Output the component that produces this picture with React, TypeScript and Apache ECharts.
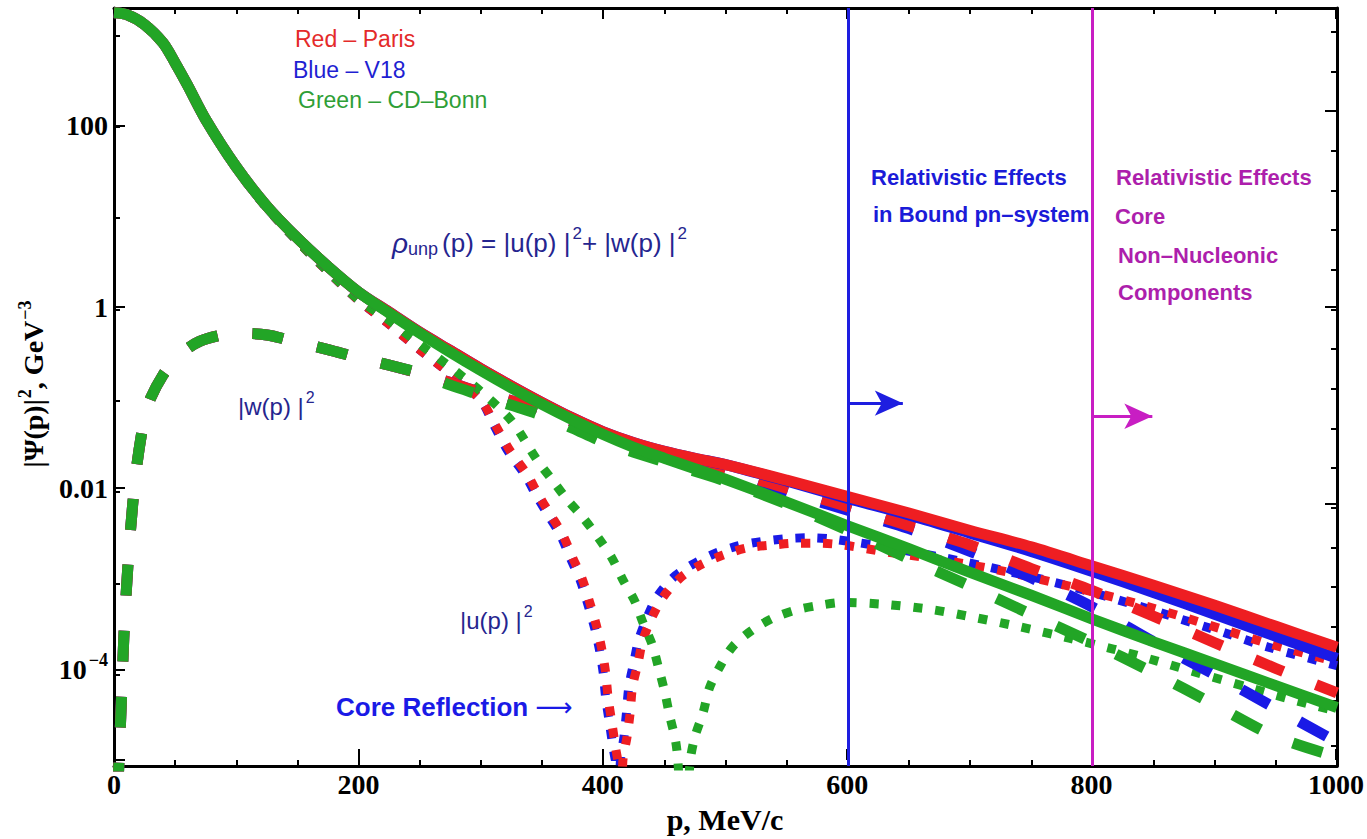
import React, { useEffect, useRef } from "react";
import * as echarts from "echarts";

// ---------------- data ----------------
// momentum p, MeV/c  ->  total density rho_unp = |u|^2 + |w|^2 , GeV^-3
const P_TOTAL = [0, 10, 25, 40, 50, 60, 75, 100, 125, 150, 175, 200, 225, 250, 275, 300, 325, 350, 375, 400, 425, 450, 475, 500, 550, 600, 650, 700, 750, 800, 850, 900, 950, 1000];
const RHO_PARIS = [1778, 1698, 1318, 832, 501, 288, 120, 36.3, 13.5, 6.03, 2.95, 1.55, 0.933, 0.562, 0.355, 0.224, 0.145, 0.0955, 0.0646, 0.0457, 0.0347, 0.0279, 0.0234, 0.02, 0.0135, 0.00891, 0.00589, 0.0038, 0.00251, 0.00155, 9.55e-4, 5.75e-4, 3.39e-4, 2.0e-4];
const RHO_V18 = [1778, 1698, 1318, 832, 501, 288, 120, 36.3, 13.5, 6.03, 2.95, 1.55, 0.933, 0.562, 0.355, 0.224, 0.145, 0.0955, 0.0646, 0.0457, 0.0347, 0.0279, 0.0234, 0.02, 0.0132, 0.00851, 0.00562, 0.00355, 0.00224, 0.00135, 7.94e-4, 4.57e-4, 2.63e-4, 1.51e-4];
const RHO_BONN = [1778, 1698, 1318, 832, 501, 288, 120, 36.3, 13.5, 6.03, 2.95, 1.55, 0.912, 0.55, 0.339, 0.214, 0.138, 0.0912, 0.0617, 0.0427, 0.0309, 0.0234, 0.018, 0.0138, 0.00776, 0.00427, 0.0024, 0.00132, 7.41e-4, 4.07e-4, 2.29e-4, 1.32e-4, 7.59e-5, 4.37e-5];

// D-wave |w(p)|^2
const P_W = [3, 6, 8, 10, 13, 18, 25, 30, 40, 50, 60, 70, 85, 100, 125, 150, 175, 200, 225, 250, 275, 300, 325, 350, 375, 400, 450, 500, 550, 600, 650, 700, 750, 800, 850, 900, 950, 1000];
const W_PARIS = [5.0e-6, 5.0e-5, 2.51e-4, 7.94e-4, 0.00316, 0.0166, 0.0661, 0.107, 0.191, 0.282, 0.372, 0.447, 0.513, 0.55, 0.525, 0.437, 0.363, 0.295, 0.245, 0.2, 0.158, 0.123, 0.1, 0.0794, 0.0589, 0.0417, 0.0263, 0.0174, 0.011, 0.00692, 0.00427, 0.00263, 0.00145, 8.32e-4, 4.37e-4, 2.24e-4, 1.17e-4, 6.31e-5];
const W_V18 = [5.0e-6, 5.0e-5, 2.51e-4, 7.94e-4, 0.00316, 0.0166, 0.0661, 0.107, 0.191, 0.282, 0.372, 0.447, 0.513, 0.55, 0.525, 0.437, 0.363, 0.295, 0.245, 0.2, 0.158, 0.123, 0.1, 0.0794, 0.0589, 0.0417, 0.0263, 0.0174, 0.0102, 0.00631, 0.00398, 0.00224, 0.00115, 5.5e-4, 2.29e-4, 1.0e-4, 4.27e-5, 1.82e-5];
const W_BONN = [5.0e-6, 5.0e-5, 2.51e-4, 7.94e-4, 0.00316, 0.0166, 0.0661, 0.107, 0.191, 0.282, 0.372, 0.447, 0.513, 0.55, 0.525, 0.437, 0.363, 0.295, 0.245, 0.2, 0.148, 0.115, 0.0891, 0.0692, 0.0501, 0.0355, 0.0214, 0.0132, 0.00741, 0.0038, 0.00186, 9.33e-4, 4.57e-4, 2.24e-4, 1.05e-4, 4.68e-5, 2.09e-5, 1.26e-5];

// S-wave |u(p)|^2 (passes through zero: the dip point falls below the axis)
const P_U_PARIS = [0, 10, 25, 40, 50, 60, 75, 100, 125, 150, 175, 200, 225, 250, 275, 300, 312, 324, 338, 347, 356, 367, 375, 383, 389, 395, 399, 402, 404, 407, 410, 413, 414.5, 416, 419.5, 422, 424, 428.5, 432.5, 440, 449, 463, 479, 498, 518, 539, 558, 577, 596, 633, 675, 725, 781, 836, 872, 908, 944, 1000];
const U_PARIS = [1778, 1698, 1318, 832, 501, 288, 120, 35.8, 13.0, 5.59, 2.59, 1.26, 0.688, 0.362, 0.197, 0.101, 0.0537, 0.0282, 0.0155, 0.00933, 0.00589, 0.00339, 0.00191, 0.0011, 6.17e-4, 3.24e-4, 1.86e-4, 1.05e-4, 5.62e-5, 3.02e-5, 1.62e-5, 8.9e-6, 1e-6, 1.1e-5, 2.09e-5, 3.8e-5, 7.41e-5, 1.35e-4, 2.4e-4, 4.27e-4, 7.08e-4, 0.00115, 0.00158, 0.00204, 0.00245, 0.00263, 0.00275, 0.00275, 0.00263, 0.00219, 0.00182, 0.00138, 9.33e-4, 6.03e-4, 4.37e-4, 3.09e-4, 2.19e-4, 1.38e-4];
const P_U_V18 = [0, 10, 25, 40, 50, 60, 75, 100, 125, 150, 175, 200, 225, 250, 275, 300, 310, 322, 336, 345, 354, 365, 373, 381, 387, 393, 397, 400, 402, 405, 408, 411, 412.5, 414, 417, 419, 421, 425, 429, 436, 444, 457, 472, 490, 510, 530, 550, 570, 590, 630, 675, 725, 781, 836, 872, 908, 944, 1000];
const U_V18 = [1778, 1698, 1318, 832, 501, 288, 120, 35.8, 13.0, 5.59, 2.59, 1.26, 0.688, 0.362, 0.197, 0.101, 0.0562, 0.0282, 0.0155, 0.00933, 0.00589, 0.00339, 0.00191, 0.0011, 6.17e-4, 3.24e-4, 1.86e-4, 1.05e-4, 5.62e-5, 3.02e-5, 1.62e-5, 8.9e-6, 1e-6, 1.1e-5, 2.09e-5, 3.8e-5, 7.41e-5, 1.35e-4, 2.4e-4, 4.27e-4, 7.08e-4, 0.00115, 0.00158, 0.00209, 0.00257, 0.00288, 0.00309, 0.00316, 0.00302, 0.00251, 0.00195, 0.00141, 9.33e-4, 5.75e-4, 4.07e-4, 2.88e-4, 2.0e-4, 1.26e-4];
const P_U_BONN = [0, 10, 25, 40, 50, 60, 75, 100, 125, 150, 175, 200, 225, 250, 275, 300, 325, 346, 359, 371, 383.5, 396, 407, 416, 426, 432.5, 440, 445, 450.5, 454.5, 459, 461, 466, 471, 475, 481.6, 487, 495.5, 506, 522, 539, 558, 577, 596, 630, 670, 706, 742, 781, 817, 853, 889, 928, 962, 1000];
const U_BONN = [1778, 1698, 1318, 832, 501, 288, 120, 35.8, 13.0, 5.59, 2.62, 1.28, 0.759, 0.417, 0.234, 0.126, 0.0603, 0.0224, 0.0132, 0.00813, 0.00525, 0.00316, 0.00191, 0.0011, 6.31e-4, 3.72e-4, 2.14e-4, 1.23e-4, 6.31e-5, 3.47e-5, 1.95e-5, 1.17e-5, 1e-6, 1.1e-5, 2.09e-5, 3.8e-5, 7.24e-5, 1.23e-4, 2.04e-4, 3.09e-4, 4.17e-4, 5.13e-4, 5.75e-4, 6.17e-4, 5.89e-4, 5.13e-4, 4.17e-4, 3.31e-4, 2.51e-4, 1.91e-4, 1.41e-4, 1.02e-4, 7.24e-5, 5.37e-5, 3.98e-5];

// axes
const X_MIN = 0;
const X_MAX = 1000;
const Y_MIN = 1e-5;
const Y_MAX = 2000;
const Y_LABELS: { exp: number; text: string }[] = [
  { exp: 2, text: "{b|100}" },
  { exp: 0, text: "{b|1}" },
  { exp: -2, text: "{b|0.01}" },
  { exp: -4, text: "{b|10}{s|\u22124}" },
];
// right frame ticks sit at powers of e
const RIGHT_MINOR_EXP = [-11, -10, -9, -8, -7, -6, -5, -4, -3, -2, -1, 0, 1, 2, 3, 4, 5, 6, 7];
const RIGHT_MAJOR_EXP = [-10, -5, 0, 5];

// region markers (p of the vertical line, p of the arrow tip, value level of the arrow)
const MARK_BLUE = { p: 600, tip: 645, level: 0.094 };
const MARK_MAGENTA = { p: 800, tip: 849, level: 0.0677 };

// ---------------- styles ----------------
const RED = "#ee1e22";
const BLUE = "#1a1ae6";
const GREEN = "#22a526";
const BLUE_LINE = "#1e1ee0";
const MAGENTA_LINE = "#c81ec3";
const MAGENTA_TEXT = "#ad1fac";
const NAVY = "#25258f";
const SERIF = '"Liberation Serif", "Times New Roman", serif';
const SANS = '"Liberation Sans", Arial, "DejaVu Sans", sans-serif';

const KIND: Record<string, { type: any; width: number }> = {
  solid: { type: "solid", width: 11 },
  dashed: { type: [31, 35], width: 11 },
  dotted: { type: [9, 13], width: 9 },
};

function line(name: string, P: number[], V: number[], color: string, kind: string, extra: any = {}) {
  return {
    name,
    type: "line",
    xAxisIndex: 0,
    yAxisIndex: 0,
    data: P.map((p, i) => [p, V[i]]),
    showSymbol: false,
    symbol: "none",
    smooth: 0.3,
    clip: true,
    silent: true,
    lineStyle: { color, width: KIND[kind].width, type: KIND[kind].type, cap: "butt", join: "round" },
    emphasis: { disabled: true },
    ...extra,
  };
}

function text(x: number, y: number, str: string, color: string, size: number, bold = false, rich?: any) {
  return {
    type: "text",
    x,
    y,
    silent: true,
    style: {
      text: str,
      fill: color,
      fontSize: size,
      fontFamily: SANS,
      fontWeight: bold ? "bold" : "normal",
      align: "left",
      verticalAlign: "middle",
      textAlign: "left",
      textVerticalAlign: "middle",
      rich,
    },
  };
}

export default function App() {
  const ref = useRef<HTMLDivElement>(null);
  useEffect(() => {
    if (!ref.current) return;
    const chart = echarts.init(ref.current, null, { renderer: "svg" });

    const frameLine = { show: true, onZero: false, lineStyle: { color: "#000", width: 3 } };
    const noLine = { show: false, onZero: false };
    const tickStyle = { color: "#000", width: 2 };
    const grid = { left: 114, right: 30, top: 8, bottom: 73, containLabel: false };
    const yBase = { type: "log", min: Y_MIN, max: Y_MAX, splitLine: { show: false } };
    const xBase = { type: "value", min: X_MIN, max: X_MAX, splitLine: { show: false } };

    const supRich = {
      n: { fontSize: 24, fontFamily: SANS, color: NAVY },
      sup: { fontSize: 16, fontFamily: SANS, color: NAVY, padding: [0, 0, 18, 2] },
    };
    const formulaRich = {
      n: { fontSize: 26, fontFamily: SANS, color: NAVY },
      sup: { fontSize: 17, fontFamily: SANS, color: NAVY, padding: [0, 0, 20, 2] },
      r: { fontSize: 28, fontFamily: SANS, fontStyle: "italic", color: NAVY },
      sub: { fontSize: 18, fontFamily: SANS, color: NAVY, padding: [11, 4, 0, 0] },
    };

    const option: any = {
      animation: false,
      backgroundColor: "#fff",
      grid: [grid, { ...grid }],
      xAxis: [
        { ...xBase, gridIndex: 0, position: "bottom", interval: 50, axisLine: frameLine, axisTick: { inside: true, length: 6, lineStyle: tickStyle }, axisLabel: { show: false } },
        { ...xBase, gridIndex: 0, position: "top", interval: 50, axisLine: frameLine, axisTick: { inside: true, length: 6, lineStyle: tickStyle }, axisLabel: { show: false } },
        {
          ...xBase, gridIndex: 1, position: "bottom", interval: 200, axisLine: noLine,
          axisTick: { inside: true, length: 11, lineStyle: tickStyle },
          axisLabel: { show: true, margin: 10, fontFamily: SERIF, fontWeight: "bold", fontSize: 28, color: "#000", formatter: (v: number) => String(Math.round(v)) },
          name: "p, MeV/c", nameLocation: "middle", nameGap: 44,
          nameTextStyle: { fontFamily: SERIF, fontWeight: "bold", fontSize: 30, color: "#000" },
        },
        { ...xBase, gridIndex: 1, position: "top", interval: 200, axisLine: noLine, axisTick: { inside: true, length: 11, lineStyle: tickStyle }, axisLabel: { show: false } },
      ],
      yAxis: [
        { ...yBase, gridIndex: 0, position: "left", logBase: 10, splitNumber: 10, axisLine: frameLine, axisTick: { inside: true, length: 6, lineStyle: tickStyle }, axisLabel: { show: false } },
        {
          ...yBase, gridIndex: 0, position: "right", logBase: 10, axisLine: frameLine,
          axisTick: { show: true, inside: true, length: 6, lineStyle: tickStyle, customValues: RIGHT_MINOR_EXP.map((k) => Math.exp(k)) },
          axisLabel: { show: false },
        },
        {
          ...yBase, gridIndex: 1, position: "left", logBase: 100, axisLine: noLine,
          axisTick: { inside: true, length: 11, lineStyle: tickStyle },
          axisLabel: {
            show: true, margin: 6, fontFamily: SERIF, fontWeight: "bold", fontSize: 28, color: "#000",
            formatter: (v: number) => {
              const lg = Math.log10(v);
              const e = Math.round(lg);
              if (Math.abs(lg - e) > 1e-6) return "";
              const item = Y_LABELS.find((d) => d.exp === e);
              return item ? item.text : "";
            },
            rich: {
              b: { fontFamily: SERIF, fontWeight: "bold", fontSize: 28, color: "#000" },
              s: { fontFamily: SERIF, fontWeight: "bold", fontSize: 18, color: "#000", padding: [0, 0, 18, 2] },
            },
          },
          name: "{a||\u03a8(p)|}{s|2}{a|, GeV}{s|\u22123}",
          nameLocation: "middle", nameRotate: 90, nameGap: 58,
          nameTextStyle: {
            fontFamily: SERIF, fontWeight: "bold", fontSize: 28, color: "#000",
            rich: {
              a: { fontFamily: SERIF, fontWeight: "bold", fontSize: 28, color: "#000" },
              s: { fontFamily: SERIF, fontWeight: "bold", fontSize: 18, color: "#000", padding: [0, 0, 18, 1] },
            },
          },
        },
        {
          ...yBase, gridIndex: 1, position: "right", logBase: 10, axisLine: noLine,
          axisTick: { show: true, inside: true, length: 11, lineStyle: tickStyle, customValues: RIGHT_MAJOR_EXP.map((k) => Math.exp(k)) },
          axisLabel: { show: false },
        },
      ],
      series: [
        line("V18 |u|^2", P_U_V18, U_V18, BLUE, "dotted"),
        line("Paris |u|^2", P_U_PARIS, U_PARIS, RED, "dotted"),
        line("CD-Bonn |u|^2", P_U_BONN, U_BONN, GREEN, "dotted"),
        line("V18 |w|^2", P_W, W_V18, BLUE, "dashed"),
        line("Paris |w|^2", P_W, W_PARIS, RED, "dashed"),
        line("CD-Bonn |w|^2", P_W, W_BONN, GREEN, "dashed"),
        line("V18 rho", P_TOTAL, RHO_V18, BLUE, "solid"),
        line("Paris rho", P_TOTAL, RHO_PARIS, RED, "solid"),
        line("CD-Bonn rho", P_TOTAL, RHO_BONN, GREEN, "solid", {
          markLine: {
            silent: true,
            animation: false,
            symbol: ["none", "none"],
            label: { show: false },
            emphasis: { disabled: true },
            data: [
              { xAxis: MARK_BLUE.p, lineStyle: { color: BLUE_LINE, width: 3, type: "solid" } },
              { xAxis: MARK_MAGENTA.p, lineStyle: { color: MAGENTA_LINE, width: 3, type: "solid" } },
              [
                { coord: [MARK_BLUE.p, MARK_BLUE.level], symbol: "none", lineStyle: { color: BLUE_LINE, width: 3, type: "solid" } },
                { coord: [MARK_BLUE.tip, MARK_BLUE.level], symbol: "arrow", symbolSize: [19, 28] },
              ],
              [
                { coord: [MARK_MAGENTA.p, MARK_MAGENTA.level], symbol: "none", lineStyle: { color: MAGENTA_LINE, width: 3, type: "solid" } },
                { coord: [MARK_MAGENTA.tip, MARK_MAGENTA.level], symbol: "arrow", symbolSize: [19, 28] },
              ],
            ],
          },
        }),
      ],
      graphic: [
        text(295, 39, "Red \u2013 Paris", "#e42a2a", 23),
        text(293, 70, "Blue \u2013 V18", "#1f1fd2", 23),
        text(298, 100, "Green \u2013 CD\u2013Bonn", "#2e9e36", 23),
        text(392, 243, "{r|\u03c1}{sub|unp}{n|(p) = |u(p) |}{sup|2}{n|+ |w(p) |}{sup|2}", NAVY, 26, false, formulaRich),
        text(238, 406, "{n||w(p) |}{sup|2}", NAVY, 24, false, supRich),
        text(460, 620, "{n||u(p) |}{sup|2}", NAVY, 24, false, supRich),
        text(336, 707, "{b|Core Reflection }{a|\u27f6}", BLUE, 26, true, {
          b: { fontSize: 26, fontFamily: SANS, fontWeight: "bold", color: "#1b1bd8" },
          a: { fontSize: 26, fontFamily: '"DejaVu Sans", sans-serif', color: "#1b1bd8" },
        }),
        text(871, 177, "Relativistic Effects", "#1b1bd8", 22, true),
        text(873, 214, "in Bound pn\u2013system", "#1b1bd8", 22, true),
        text(1116, 177, "Relativistic Effects", MAGENTA_TEXT, 22, true),
        text(1115, 216, "Core", MAGENTA_TEXT, 22, true),
        text(1118, 255, "Non\u2013Nucleonic", MAGENTA_TEXT, 22, true),
        text(1118, 292, "Components", MAGENTA_TEXT, 22, true),
      ],
    };

    chart.setOption(option);
    return () => chart.dispose();
  }, []);

  return (
    <div
      ref={ref}
      style={{ position: "fixed", left: 0, top: 0, width: 1367, height: 839, background: "#fff" }}
    />
  );
}
